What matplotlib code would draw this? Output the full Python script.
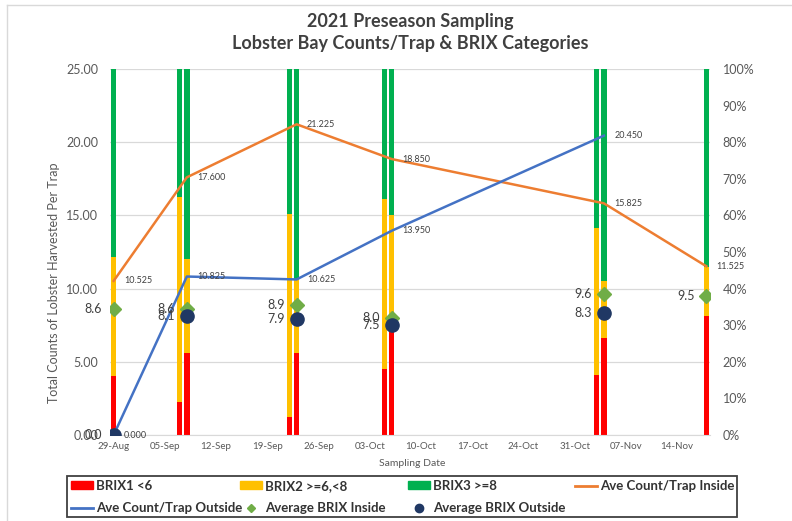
import matplotlib
matplotlib.use("Agg")
import matplotlib.pyplot as plt
import matplotlib.dates as mdates
import matplotlib.patches as mpatches
from matplotlib.lines import Line2D
import numpy as np
import datetime as dt

plt.rcParams['font.family'] = ['Lato', 'DejaVu Sans']

# ---------------- data ----------------
bar_dates = ['2021-08-29', '2021-09-07', '2021-09-08', '2021-09-22', '2021-09-23',
             '2021-10-05', '2021-10-06', '2021-11-03', '2021-11-04', '2021-11-18']
brix1_pct = [16.0, 9.0, 22.5, 5.0, 22.5, 18.0, 29.5, 16.5, 26.5, 32.5]
brix2_pct = [32.5, 56.0, 25.5, 55.5, 20.0, 46.5, 30.5, 40.0, 15.5, 13.5]
brix3_pct = [51.5, 35.0, 52.0, 39.5, 57.5, 35.5, 40.0, 43.5, 58.0, 54.0]

inside_dates = ['2021-08-29', '2021-09-08', '2021-09-23', '2021-10-06', '2021-11-04', '2021-11-18']
ave_count_inside = [10.525, 17.600, 21.225, 18.850, 15.825, 11.525]
avg_brix_inside = [8.6, 8.6, 8.9, 8.0, 9.6, 9.5]

outside_dates = ['2021-08-29', '2021-09-08', '2021-09-23', '2021-10-06', '2021-11-04']
ave_count_outside = [0.000, 10.825, 10.625, 13.950, 20.450]
avg_brix_outside = [0.0, 8.1, 7.9, 7.5, 8.3]

tick_start = '2021-08-29'
tick_count = 12

# ---------------- styling ----------------
C_RED = '#FF0000'
C_YEL = '#FFC000'
C_GRN = '#00B050'
C_ORG = '#ED7D31'
C_BLU = '#4472C4'
C_DIA = '#70AD47'
C_DOT = '#203864'
C_TXT = '#595959'
C_LBL = '#404040'

def to_dt(s):
    return dt.datetime.strptime(s, '%Y-%m-%d')

bx = [to_dt(d) for d in bar_dates]
ix = [to_dt(d) for d in inside_dates]
ox = [to_dt(d) for d in outside_dates]

fig = plt.figure(figsize=(7.92, 5.21), dpi=100)
L, R, T, B = 110 / 792, 710 / 792, 1 - 69 / 521, 1 - 435 / 521
ax = fig.add_axes([L, B, R - L, T - B])
ax2 = ax.twinx()
ax.set_zorder(ax2.get_zorder() + 1)
ax.patch.set_visible(False)

# stacked 100% bars on the secondary axis
w = 0.75
b1 = np.array(brix1_pct)
b2 = np.array(brix2_pct)
b3 = np.array(brix3_pct)
ax2.bar(bx, b1, width=w, color=C_RED, zorder=2)
ax2.bar(bx, b2, width=w, bottom=b1, color=C_YEL, zorder=2)
ax2.bar(bx, b3, width=w, bottom=b1 + b2, color=C_GRN, zorder=2)
ax2.set_ylim(0, 100)
ax2.set_yticks(np.arange(0, 101, 10))
ax2.set_yticklabels([f'{v}%' for v in range(0, 101, 10)])
for v in range(0, 101, 20):
    ax2.axhline(v, color='#D9D9D9', lw=0.9, zorder=0)

# lines & markers on primary axis
ax.plot(ix, ave_count_inside, color=C_ORG, lw=1.8, zorder=3)
ax.plot(ox, ave_count_outside, color=C_BLU, lw=1.8, zorder=3)
ax.plot(ix, avg_brix_inside, ls='none', marker='D', color=C_DIA, markersize=7, zorder=4)
ax.plot(ox, avg_brix_outside, ls='none', marker='o', color=C_DOT, markersize=9.5, zorder=5)

for x, y in zip(ix, ave_count_inside):
    ax.annotate(f'{y:.3f}', (x, y), xytext=(7.5, 0), textcoords='offset points',
                ha='left', va='center', fontsize=6.5, color=C_LBL, zorder=6)
for x, y in zip(ox, ave_count_outside):
    ax.annotate(f'{y:.3f}', (x, y), xytext=(7.5, 0), textcoords='offset points',
                ha='left', va='center', fontsize=6.5, color=C_LBL, zorder=6)
for x, y in zip(ix, avg_brix_inside):
    ax.annotate(f'{y:.1f}', (x, y), xytext=(-8.5, 0), textcoords='offset points',
                ha='right', va='center', fontsize=9, color=C_LBL, zorder=6)
for x, y in zip(ox, avg_brix_outside):
    ax.annotate(f'{y:.1f}', (x, y), xytext=(-8.5, 0), textcoords='offset points',
                ha='right', va='center', fontsize=9, color=C_LBL, zorder=6)

ax.set_ylim(0, 25)
ax.set_yticks(np.arange(0, 26, 5))
ax.set_yticklabels([f'{v:.2f}' for v in range(0, 26, 5)])
x0 = to_dt(bar_dates[0]) - dt.timedelta(hours=12)
x1 = to_dt(bar_dates[-1]) + dt.timedelta(hours=12)
ax.set_xlim(x0, x1)
t0 = to_dt(tick_start)
ax.set_xticks([t0 + dt.timedelta(days=7 * k) for k in range(tick_count)])
ax.xaxis.set_major_formatter(mdates.DateFormatter('%d-%b'))

for a in (ax, ax2):
    for s in a.spines.values():
        s.set_visible(False)
ax.spines['bottom'].set_visible(True)
ax.spines['bottom'].set_color('#D9D9D9')
ax.tick_params(axis='y', length=0, pad=8.5, labelsize=9, labelcolor=C_TXT)
ax.tick_params(axis='x', length=0, pad=5, labelsize=7, labelcolor=C_TXT)
ax2.tick_params(axis='y', length=0, pad=9, labelsize=9, labelcolor=C_TXT)

ax.set_xlabel('Sampling Date', fontsize=7.5, color=C_TXT, va='center')
ax.xaxis.set_label_coords((412 - 110) / 600, (435 - 463) / 366)
ax.set_ylabel('Total Counts of Lobster Harvested Per Trap', fontsize=9, color=C_TXT, va='center')
ax.yaxis.set_label_coords((54 - 110) / 600, (435 - 283) / 366)

# title
fig.text(410 / 792, 1 - 21 / 521, '2021 Preseason Sampling', ha='center', va='center',
         fontsize=13, fontweight='bold', color=C_LBL)
fig.text(410 / 792, 1 - 44 / 521, 'Lobster Bay Counts/Trap & BRIX Categories', ha='center', va='center',
         fontsize=13, fontweight='bold', color=C_LBL)

# chart border (top & left)
fig.add_artist(Line2D([7 / 792, 1], [1 - 5 / 521, 1 - 5 / 521], color='#D9D9D9', lw=1, transform=fig.transFigure))
fig.add_artist(Line2D([7 / 792, 7 / 792], [0, 1 - 5 / 521], color='#D9D9D9', lw=1, transform=fig.transFigure))

# legend
leg_font = {'family': ['Liberation Sans Narrow', 'Lato'], 'weight': 'bold', 'size': 9.5}
cols = [
    ([mpatches.Patch(color=C_RED), Line2D([], [], color=C_BLU, lw=2)],
     ['BRIX1 <6', 'Ave Count/Trap Outside'], 71),
    ([mpatches.Patch(color=C_YEL), Line2D([], [], ls='none', marker='D', color=C_DIA, markersize=4.5)],
     ['BRIX2 >=6,<8', 'Average BRIX Inside'], 240),
    ([mpatches.Patch(color=C_GRN), Line2D([], [], ls='none', marker='o', color=C_DOT, markersize=6)],
     ['BRIX3 >=8', 'Average BRIX Outside'], 408),
    ([Line2D([], [], color=C_ORG, lw=2)], ['Ave Count/Trap Inside'], 575),
]
for hs, ls_, xpx in cols:
    lg = fig.legend(hs, ls_, loc='upper left', bbox_to_anchor=(xpx / 792, 1 - 480 / 521),
                    frameon=False, prop=leg_font, borderpad=0, borderaxespad=0,
                    handlelength=1.67, handletextpad=0.25, labelspacing=0.75,
                    handleheight=0.55)
    for t in lg.get_texts():
        t.set_color('#333333')
fig.add_artist(mpatches.Rectangle((67 / 792, 1 - 517 / 521), 670 / 792, 41 / 521,
                                  transform=fig.transFigure, fill=False,
                                  edgecolor='#404040', lw=1.3))

fig.savefig('out.png', dpi=100)
